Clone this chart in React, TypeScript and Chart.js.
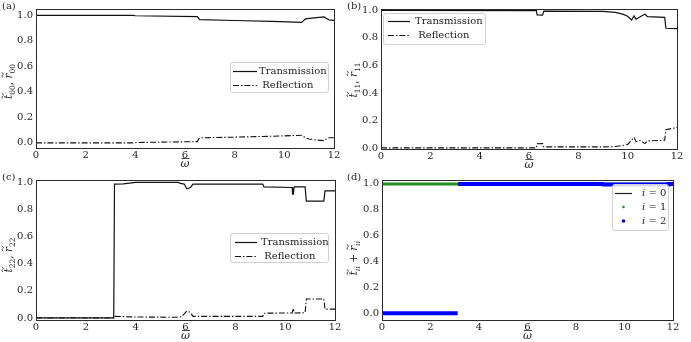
import React, { useEffect, useRef } from 'react';
import { Chart, registerables } from 'chart.js';

Chart.register(...registerables);

// ---------- data ----------
const X_TICKS = [0, 2, 4, 6, 8, 10, 12];
const Y_TICKS = [0, 0.2, 0.4, 0.6, 0.8, 1.0];

// (a) i = 0
const A_T_X = [0, 3.9, 4.0, 6.5, 6.55, 6.6, 8.0, 9.5, 10.7, 10.75, 10.85, 11.2, 11.6, 11.7, 11.8, 12];
const A_T_Y = [1.0, 1.0, 0.997, 0.99, 0.975, 0.966, 0.96, 0.953, 0.945, 0.955, 0.972, 0.98, 0.988, 0.975, 0.965, 0.96];
const A_R_X = [0, 3.95, 4.05, 6.5, 6.55, 6.6, 8.0, 9.5, 10.7, 10.85, 11.0, 11.3, 11.6, 11.7, 11.8, 12];
const A_R_Y = [0.0, 0.0, 0.003, 0.01, 0.03, 0.04, 0.045, 0.052, 0.06, 0.04, 0.03, 0.022, 0.018, 0.03, 0.04, 0.04];

// (b) i = 1
const B_T_X = [0, 6.3, 6.33, 6.55, 6.6, 9.0, 9.5, 9.8, 10.0, 10.16, 10.26, 10.34, 10.7, 10.8, 11.5, 11.55, 12];
const B_T_Y = [0.997, 0.995, 0.965, 0.963, 0.992, 0.99, 0.982, 0.97, 0.955, 0.928, 0.957, 0.933, 0.971, 0.952, 0.947, 0.868, 0.865];
const B_R_X = [0, 6.3, 6.33, 6.55, 6.6, 9.0, 9.5, 9.8, 10.0, 10.16, 10.26, 10.34, 10.5, 10.7, 10.8, 11.5, 11.55, 12];
const B_R_Y = [0.005, 0.005, 0.035, 0.036, 0.012, 0.012, 0.015, 0.022, 0.03, 0.06, 0.08, 0.05, 0.06, 0.036, 0.055, 0.06, 0.137, 0.152];

// (c) i = 2
const C_T_X = [0, 3.12, 3.15, 3.5, 4.0, 5.7, 5.8, 5.95, 6.05, 6.2, 6.3, 9.1, 9.15, 10.28, 10.3, 10.33, 10.36, 10.8, 10.85, 11.55, 11.6, 12];
const C_T_Y = [0.0, 0.0, 0.985, 0.987, 0.997, 0.997, 0.99, 0.985, 0.95, 0.96, 0.985, 0.985, 0.965, 0.96, 0.91, 0.91, 0.965, 0.965, 0.86, 0.86, 0.935, 0.935];
const C_R_X = [0, 3.12, 3.15, 4.0, 5.7, 5.85, 6.05, 6.2, 6.3, 9.1, 9.15, 10.28, 10.33, 10.36, 10.8, 10.85, 11.55, 11.6, 12];
const C_R_Y = [0.0, 0.0, 0.012, 0.007, 0.005, 0.01, 0.05, 0.04, 0.012, 0.012, 0.035, 0.037, 0.07, 0.037, 0.038, 0.14, 0.14, 0.065, 0.065];

// (d) t_ii + r_ii
const D0_X = [0, 12];
const D0_Y = [1.0, 1.0];
const D1_X = [0, 12];
const D1_Y = [1.0, 1.0];
const D2_X = [0, 3.12, 3.12, 3.14, 9.1, 9.12, 11.8, 11.82, 12];
const D2_Y = [0.0, 0.0, null, 1.0, 1.0, 0.995, 0.995, 1.0, 1.0];

// ---------- styling ----------
const FAM = '"DejaVu Serif", serif';
const INK = '#111111';
const TXT = '#1e1e1e';
const DASHDOT = [6, 2, 1.4, 2];
const GREEN = '#1f8f1f';
const BLUE = '#0000ff';

const pts = (xs: number[], ys: (number | null)[]) => xs.map((x, i) => ({ x, y: ys[i] }));

type Row = { label: string; kind: 'solid' | 'dashdot' | 'dot'; color: string; r?: number; math?: boolean };
type Spec = {
  left: number; top: number; w: number; h: number;
  area: { l: number; t: number; r: number; b: number };
  yMin: number; yMax: number;
  letter: string; sub: string; subItalic: boolean; plus: boolean; labelShift: number;
  box: { x: number; y: number; w: number; h: number; rows: number[]; s0: number; s1: number; tx: number };
  rows: Row[];
  datasets: any[];
};

const lineDs = (label: string, data: any[], dash: number[] | undefined, extra: any = {}) => ({
  label, data, showLine: true, pointRadius: 0, borderColor: INK, backgroundColor: INK,
  borderWidth: 1.2, borderDash: dash || [], tension: 0, fill: false, spanGaps: false, ...extra,
});

const TR_ROWS: Row[] = [
  { label: 'Transmission', kind: 'solid', color: INK },
  { label: ' Reflection', kind: 'dashdot', color: INK },
];

const SPECS: Spec[] = [
  {
    left: 0, top: 0, w: 345, h: 171,
    area: { l: 36, t: 8, r: 334, b: 148 }, yMin: -0.04, yMax: 1.05,
    letter: '(a)', sub: '00', subItalic: false, plus: false, labelShift: 3,
    box: { x: 230, y: 62, w: 98, h: 30, rows: [71, 85], s0: 233, s1: 257, tx: 259 },
    rows: TR_ROWS,
    datasets: [lineDs('Transmission', pts(A_T_X, A_T_Y), undefined), lineDs('Reflection', pts(A_R_X, A_R_Y), DASHDOT, { borderWidth: 1.1 })],
  },
  {
    left: 345, top: 0, w: 346, h: 171,
    area: { l: 36, t: 9, r: 332, b: 149 }, yMin: -0.003, yMax: 1.007,
    letter: '(b)', sub: '11', subItalic: false, plus: false, labelShift: 1,
    box: { x: 38, y: 13, w: 102, h: 31, rows: [21, 35], s0: 43, s1: 65, tx: 70 },
    rows: TR_ROWS,
    datasets: [lineDs('Transmission', pts(B_T_X, B_T_Y), undefined), lineDs('Reflection', pts(B_R_X, B_R_Y), DASHDOT, { borderWidth: 1.1 })],
  },
  {
    left: 0, top: 171, w: 345, h: 171,
    area: { l: 36, t: 7, r: 335, b: 149 }, yMin: -0.015, yMax: 1.015,
    letter: '(c)', sub: '22', subItalic: false, plus: false, labelShift: 5,
    box: { x: 230, y: 62, w: 98, h: 29, rows: [71, 85], s0: 235, s1: 257, tx: 261 },
    rows: TR_ROWS,
    datasets: [lineDs('Transmission', pts(C_T_X, C_T_Y), undefined), lineDs('Reflection', pts(C_R_X, C_R_Y), DASHDOT, { borderWidth: 1.1 })],
  },
  {
    left: 345, top: 171, w: 346, h: 171,
    area: { l: 37, t: 7, r: 328, b: 149 }, yMin: -0.053, yMax: 1.03,
    letter: '(d)', sub: 'ii', subItalic: true, plus: true, labelShift: 8,
    box: { x: 267, y: 13, w: 56, h: 46, rows: [22, 36, 50], s0: 270, s1: 287, tx: 297 },
    rows: [
      { label: '0', kind: 'solid', color: '#222222', math: true },
      { label: '1', kind: 'dot', color: GREEN, r: 1.3, math: true },
      { label: '2', kind: 'dot', color: BLUE, r: 1.8, math: true },
    ],
    datasets: [
      lineDs('i = 0', pts(D0_X, D0_Y), undefined, { borderColor: '#222222', order: 3 }),
      lineDs('i = 1', pts(D1_X, D1_Y), undefined, { borderColor: GREEN, borderWidth: 3, order: 2 }),
      lineDs('i = 2', pts(D2_X, D2_Y), undefined, { borderColor: BLUE, borderWidth: 4, order: 1 }),
    ],
  },
];

function drawTilde(ctx: CanvasRenderingContext2D, cx: number, cy: number) {
  ctx.save();
  ctx.beginPath();
  ctx.lineWidth = 0.8;
  ctx.moveTo(cx - 2.6, cy + 0.6);
  ctx.bezierCurveTo(cx - 1.4, cy - 1.4, cx - 0.4, cy - 0.2, cx, cy + 0.2);
  ctx.bezierCurveTo(cx + 0.6, cy + 1.2, cx + 1.6, cy + 1.2, cx + 2.6, cy - 0.8);
  ctx.stroke();
  ctx.restore();
}

function drawYLabel(ctx: CanvasRenderingContext2D, spec: Spec, cy: number) {
  const main = `italic 10.5px ${FAM}`;
  const small = `${spec.subItalic ? 'italic ' : ''}7.5px ${FAM}`;
  const norm = `10.5px ${FAM}`;
  const pieces: { t: string; f: string; dy: number; tilde?: boolean }[] = [
    { t: 't', f: main, dy: 0, tilde: true },
    { t: spec.sub, f: small, dy: 2.6 },
    { t: spec.plus ? ' + ' : ', ', f: norm, dy: 0 },
    { t: 'r', f: main, dy: 0, tilde: true },
    { t: spec.sub, f: small, dy: 2.6 },
  ];
  let total = 0;
  const widths = pieces.map((p) => { ctx.font = p.f; const w = ctx.measureText(p.t).width; total += w; return w; });
  ctx.save();
  ctx.translate(8.5, cy);
  ctx.rotate(-Math.PI / 2);
  ctx.fillStyle = TXT;
  ctx.strokeStyle = TXT;
  ctx.textBaseline = 'alphabetic';
  ctx.textAlign = 'left';
  let x = -total / 2;
  const base = 3.5;
  pieces.forEach((p, i) => {
    ctx.font = p.f;
    ctx.fillText(p.t, x, base + p.dy);
    if (p.tilde) drawTilde(ctx, x + widths[i] / 2 + 1, base - 9.5);
    x += widths[i];
  });
  ctx.restore();
}

function drawXLabel(ctx: CanvasRenderingContext2D, cx: number, baseY: number) {
  ctx.save();
  ctx.font = `italic 11px ${FAM}`;
  ctx.fillStyle = TXT;
  ctx.strokeStyle = TXT;
  ctx.textAlign = 'center';
  ctx.textBaseline = 'alphabetic';
  ctx.fillText('ω', cx, baseY);
  ctx.beginPath();
  ctx.lineWidth = 0.8;
  ctx.moveTo(cx - 3.5, baseY - 8.5);
  ctx.lineTo(cx + 4.5, baseY - 8.5);
  ctx.stroke();
  ctx.restore();
}

function drawLegend(ctx: CanvasRenderingContext2D, spec: Spec) {
  const b = spec.box;
  ctx.save();
  const r = 2.5;
  ctx.beginPath();
  ctx.moveTo(b.x + r, b.y + 0.5);
  ctx.arcTo(b.x + b.w + 0.5, b.y + 0.5, b.x + b.w + 0.5, b.y + b.h + 0.5, r);
  ctx.arcTo(b.x + b.w + 0.5, b.y + b.h + 0.5, b.x + 0.5, b.y + b.h + 0.5, r);
  ctx.arcTo(b.x + 0.5, b.y + b.h + 0.5, b.x + 0.5, b.y + 0.5, r);
  ctx.arcTo(b.x + 0.5, b.y + 0.5, b.x + b.w + 0.5, b.y + 0.5, r);
  ctx.closePath();
  ctx.fillStyle = 'rgba(255,255,255,0.85)';
  ctx.fill();
  ctx.strokeStyle = '#d0d0d0';
  ctx.lineWidth = 1;
  ctx.stroke();

  spec.rows.forEach((row, i) => {
    const y = b.rows[i];
    ctx.strokeStyle = row.color;
    ctx.fillStyle = row.color;
    if (row.kind === 'dot') {
      ctx.beginPath();
      ctx.arc((b.s0 + b.s1) / 2, y, row.r || 1.5, 0, Math.PI * 2);
      ctx.fill();
    } else {
      ctx.beginPath();
      ctx.lineWidth = 1.2;
      ctx.setLineDash(row.kind === 'dashdot' ? DASHDOT : []);
      ctx.moveTo(b.s0, y + 0.5);
      ctx.lineTo(b.s1, y + 0.5);
      ctx.stroke();
      ctx.setLineDash([]);
    }
    ctx.fillStyle = TXT;
    ctx.textBaseline = 'middle';
    ctx.textAlign = 'left';
    if (row.math) {
      ctx.font = `italic 10px ${FAM}`;
      ctx.fillText('i', b.tx, y);
      const wi = ctx.measureText('i').width;
      ctx.font = `10px ${FAM}`;
      ctx.fillText(' = ' + row.label, b.tx + wi, y);
    } else {
      ctx.font = `10px ${FAM}`;
      ctx.fillText(row.label, b.tx, y);
    }
  });
  ctx.restore();
}

function Panel({ spec }: { spec: Spec }) {
  const ref = useRef<HTMLCanvasElement>(null);
  useEffect(() => {
    const a = spec.area;
    const deco = {
      id: 'deco',
      afterDraw(chart: any) {
        const ctx: CanvasRenderingContext2D = chart.ctx;
        const ca = chart.chartArea;
        ctx.save();
        ctx.strokeStyle = '#2b2b2b';
        ctx.lineWidth = 1;
        ctx.strokeRect(Math.round(ca.left) + 0.5, Math.round(ca.top) + 0.5, Math.round(ca.right - ca.left), Math.round(ca.bottom - ca.top));
        ctx.font = `10px ${FAM}`;
        ctx.fillStyle = TXT;
        ctx.textBaseline = 'middle';
        ctx.textAlign = 'left';
        ctx.fillText(spec.letter, 2, 6.5);
        ctx.restore();
        drawYLabel(ctx, spec, (ca.top + ca.bottom) / 2 + spec.labelShift);
        drawXLabel(ctx, (ca.left + ca.right) / 2, ca.bottom + 19);
        drawLegend(ctx, spec);
      },
    };
    const tickFont = { family: FAM, size: 10 };
    const chart = new Chart(ref.current as HTMLCanvasElement, {
      type: 'scatter',
      data: { datasets: spec.datasets },
      options: {
        animation: false,
        responsive: false,
        maintainAspectRatio: false,
        layout: { padding: { top: a.t, right: spec.w - a.r, bottom: 0, left: 0 } },
        plugins: { legend: { display: false }, tooltip: { enabled: false } },
        scales: {
          x: {
            type: 'linear', min: 0, max: 12,
            grid: { display: false, drawTicks: false },
            border: { display: false },
            ticks: { font: tickFont, color: TXT, padding: 1, maxRotation: 0, autoSkip: false, callback: (v: any) => String(v) },
            afterBuildTicks: (s: any) => { s.ticks = X_TICKS.map((v) => ({ value: v })); },
            afterFit: (s: any) => { s.height = spec.h - a.b; },
          },
          y: {
            type: 'linear', min: spec.yMin, max: spec.yMax,
            grid: { display: false, drawTicks: false },
            border: { display: false },
            ticks: { font: tickFont, color: TXT, padding: 3, autoSkip: false, callback: (v: any) => Number(v).toFixed(1) },
            afterBuildTicks: (s: any) => { s.ticks = Y_TICKS.map((v) => ({ value: v })); },
            afterFit: (s: any) => { s.width = a.l; },
          },
        },
      } as any,
      plugins: [deco],
    });
    return () => chart.destroy();
  }, [spec]);
  return (
    <canvas
      ref={ref}
      width={spec.w}
      height={spec.h}
      style={{ position: 'absolute', left: spec.left, top: spec.top, width: spec.w, height: spec.h }}
    />
  );
}

export default function App() {
  return (
    <div style={{ position: 'absolute', left: 0, top: 0, width: 691, height: 342, background: '#ffffff', overflow: 'hidden' }}>
      {SPECS.map((s) => (
        <Panel key={s.letter} spec={s} />
      ))}
    </div>
  );
}
